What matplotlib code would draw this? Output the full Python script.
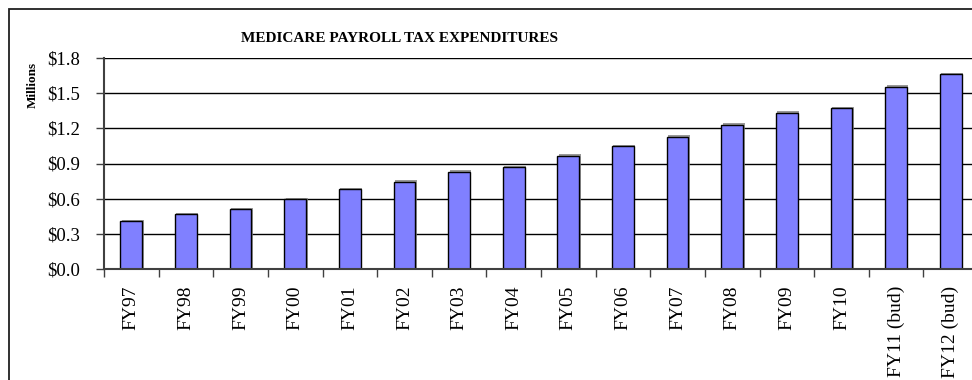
import matplotlib
matplotlib.use('Agg')
import matplotlib.pyplot as plt
import matplotlib.patheffects as pe
from matplotlib.patches import Rectangle
import numpy as np

# data ($ millions)
years = ['FY97', 'FY98', 'FY99', 'FY00', 'FY01', 'FY02', 'FY03', 'FY04',
         'FY05', 'FY06', 'FY07', 'FY08', 'FY09', 'FY10', 'FY11 (bud)', 'FY12 (bud)']
amounts = [0.41, 0.47, 0.51, 0.595, 0.68, 0.745, 0.83, 0.87,
           0.965, 1.05, 1.13, 1.23, 1.335, 1.37, 1.555, 1.66]
yticks = [0.0, 0.3, 0.6, 0.9, 1.2, 1.5, 1.8]

plt.rcParams['font.family'] = ['Liberation Serif', 'DejaVu Serif']

fig = plt.figure(figsize=(9.72, 3.80), dpi=100)
fig.patch.set_facecolor('white')

# outer chart border (runs off right and bottom edge like the source)
fig.patches.append(Rectangle((9 / 972, -0.05), 1.2, 1 - 9 / 380 + 0.05,
                             transform=fig.transFigure, fill=False,
                             edgecolor='#202020', linewidth=1.3))

ax = fig.add_axes([104 / 972, 1 - 269 / 380, 874 / 972, 211 / 380])
x = np.arange(len(years))

ax.set_axisbelow(True)
ax.yaxis.grid(True, color='black', linewidth=1.0)
bars = ax.bar(x, amounts, width=0.4, color='#8080FF', edgecolor='black',
              linewidth=1.0, zorder=3)
for b in bars:
    b.set_path_effects([pe.SimplePatchShadow(offset=(1, 1), shadow_rgbFace='#808080', alpha=0.8),
                        pe.Normal()])

ax.set_xlim(-0.5, len(years) - 0.5)
ax.set_ylim(0, 1.8)
ax.set_yticks(yticks)
ax.set_yticklabels(['$%.1f' % v for v in yticks], fontsize=13.5)

ax.set_xticks(x)
ax.set_xticklabels(years, rotation=90, fontsize=14, va='top')
ax.tick_params(axis='x', length=0, pad=12)
ax.set_xticks(np.arange(-0.5, len(years)), minor=True)
ax.tick_params(axis='x', which='minor', length=6, width=1, color='#404040')
ax.tick_params(axis='y', length=6, width=1, color='#404040', pad=11)

for s in ['top', 'right']:
    ax.spines[s].set_visible(False)
for s in ['left', 'bottom']:
    ax.spines[s].set_color('#404040')
    ax.spines[s].set_linewidth(1.5)
    ax.spines[s].set_zorder(4)

fig.text(33 / 972, 1 - 85 / 380, 'Millions', rotation=90, ha='center', va='center',
         fontsize=9.5, fontweight='bold')
fig.text(399 / 972, 1 - 38 / 380, 'MEDICARE PAYROLL TAX EXPENDITURES',
         ha='center', va='center', fontsize=11, fontweight='bold')

fig.savefig('out.png', dpi=100)
